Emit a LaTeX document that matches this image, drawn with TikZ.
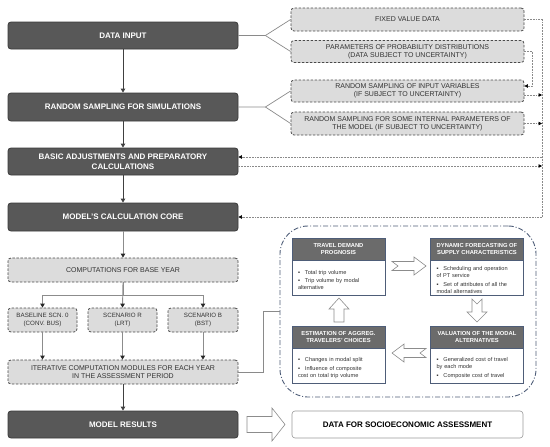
\documentclass[tikz,border=0pt]{standalone}
\usepackage{fontspec}
\setmainfont{Liberation Sans}
\usetikzlibrary{arrows.meta,calc}

\definecolor{darkbox}{HTML}{585858}
\definecolor{darkedge}{HTML}{3A3A3A}
\definecolor{lightbox}{HTML}{DCDCDC}
\definecolor{lightedge}{HTML}{4A4A4A}
\definecolor{loopcol}{HTML}{4E5D78}
\definecolor{headfill}{HTML}{6B6B6B}
\definecolor{hollowcol}{HTML}{8C8C8C}
\definecolor{busgray}{HTML}{8A8A8A}
\definecolor{txtgray}{HTML}{333333}

\newcommand{\bitem}[1]{\par\hangindent=7pt\hangafter=1\noindent\makebox[7pt][l]{▪}#1}
\newcommand{\bgap}{\par\vspace{1.2pt}}

\begin{document}
\begin{tikzpicture}[x=1pt,y=-1pt,
  darknode/.style={draw=darkedge, fill=darkbox, rounded corners=3pt, line width=0.8pt,
    minimum width=230pt, text=white, font=\fontsize{8}{9.5}\selectfont\bfseries,
    align=center, inner sep=0pt},
  lightnode/.style={draw=lightedge, fill=lightbox, rounded corners=3pt,
    dash pattern=on 2.5pt off 1.5pt, line width=0.8pt, text=txtgray,
    font=\fontsize{7}{8}\selectfont, align=center, inner sep=0pt},
  scennode/.style={lightnode, font=\fontsize{6.2}{7.8}\selectfont, minimum height=24pt},
  hdr/.style={draw=loopcol, fill=headfill, line width=0.9pt, minimum width=93pt,
    minimum height=22pt, text=white, font=\fontsize{5.8}{7.3}\selectfont\bfseries,
    align=center, inner sep=0pt},
  bodynode/.style={draw=loopcol, fill=white, line width=0.9pt, minimum width=93pt,
    minimum height=35pt, text width=81pt, inner xsep=6pt, inner ysep=0pt,
    font=\fontsize{5.6}{7.2}\selectfont, align=left, text=txtgray},
  loopbox/.style={draw=loopcol, line width=0.9pt, rounded corners=28pt,
    dash pattern=on 5pt off 2pt on 1pt off 2pt, minimum width=256pt, minimum height=171pt},
  socionode/.style={draw=black!40, fill=white, rounded corners=3pt, line width=0.6pt,
    minimum width=231pt, minimum height=27pt, font=\fontsize{8}{9.5}\selectfont\bfseries,
    inner sep=0pt},
  darkflow/.style={draw=black!75, line width=0.9pt, -{Triangle[length=4pt,width=4.5pt]}},
  grayflow/.style={draw=black!45, line width=0.9pt, -{Triangle[length=4pt,width=4.5pt,color=black!85]}},
  grayline/.style={draw=black!45, line width=0.9pt},
  bracket/.style={draw=busgray, line width=0.7pt},
  bus/.style={draw=busgray, line width=0.6pt, dash pattern=on 1.8pt off 1pt},
  busarrow/.style={bus, -{Triangle[length=3.5pt,width=3.5pt,color=black]}},
  hollow/.style={draw=hollowcol, fill=white, line width=0.6pt, line join=miter}
]
\useasboundingbox (0,0) rectangle (550,447);

% left column
\node[darknode, minimum height=27pt] (din) at (123,35.5) {DATA INPUT};
\node[darknode, minimum height=28pt] (rs) at (123,107) {RANDOM SAMPLING FOR SIMULATIONS};
\node[darknode, minimum height=27pt] (basic) at (123,161.5) {BASIC ADJUSTMENTS AND PREPARATORY\\CALCULATIONS};
\node[darknode, minimum height=28pt] (core) at (123,217) {MODEL’S CALCULATION CORE};
\node[lightnode, minimum width=230pt, minimum height=24pt] (comp) at (123,270) {COMPUTATIONS FOR BASE YEAR};
\node[scennode, minimum width=69pt] (s0) at (42.5,320) {BASELINE SCN. 0\\(CONV. BUS)};
\node[scennode, minimum width=69pt] (sR) at (122.5,320) {SCENARIO R\\(LRT)};
\node[scennode, minimum width=70pt] (sB) at (203,320) {SCENARIO B\\(BST)};
\node[lightnode, minimum width=230pt, minimum height=24pt] (iter) at (123,372) {ITERATIVE COMPUTATION MODULES FOR EACH YEAR\\IN THE ASSESSMENT PERIOD};
\node[darknode, minimum height=27pt] (res) at (123,424.5) {MODEL RESULTS};

% right column
\node[lightnode, minimum width=233pt, minimum height=23pt] (fixed) at (407.5,19.5) {FIXED VALUE DATA};
\node[lightnode, minimum width=233pt, minimum height=22pt] (params) at (407.5,51.5) {PARAMETERS OF PROBABILITY DISTRIBUTIONS\\(DATA SUBJECT TO UNCERTAINTY)};
\node[lightnode, minimum width=233pt, minimum height=22pt] (rsin) at (407.5,91) {RANDOM SAMPLING OF INPUT VARIABLES\\(IF SUBJECT TO UNCERTAINTY)};
\node[lightnode, minimum width=233pt, minimum height=23pt] (rsint) at (407.5,123.5) {RANDOM SAMPLING FOR SOME INTERNAL PARAMETERS OF\\THE MODEL (IF SUBJECT TO UNCERTAINTY)};

% vertical flow
\draw[darkflow] (din.south) -- (rs.north);
\draw[darkflow] (rs.south) -- (basic.north);
\draw[darkflow] (basic.south) -- (core.north);
\draw[grayflow] (core.south) -- (comp.north);
\draw[grayflow] (comp.south) -- (sR.north);
\draw[grayline] (comp.south) -- ++(0,13) coordinate (split);
\draw[grayflow] (split) -| (s0.north);
\draw[grayflow] (split) -| (sB.north);
\draw[grayflow] (s0.south) -- (s0.south |- iter.north);
\draw[grayflow] (sR.south) -- (sR.south |- iter.north);
\draw[grayflow] (sB.south) -- (sB.south |- iter.north);
\draw[darkflow] (iter.south) -- (res.north);

% brackets to right column
\draw[bracket] (din.east) -- ++(27,0) coordinate (f1) -- (fixed.west);
\draw[bracket] (f1) -- (params.west);
\draw[bracket] (rs.east) -- ++(27,0) coordinate (f2) -- (rsin.west);
\draw[bracket] (f2) -- (rsint.west);

% dashed bus
\coordinate (busTop) at (542,19.5);
\coordinate (busBot) at (542,217);
\draw[bus] (fixed.east) -- (busTop) -- (busBot);
\draw[busarrow] (busBot) -- (core.east);
\draw[busarrow] (params.east) -- ++(8,0) |- ([yshift=5pt]rsin.east);
\draw[busarrow] ([yshift=-4pt]rsin.east) -- ([yshift=-4pt]rsin.east -| busTop);
\draw[busarrow] (rsint.east) -- (rsint.east -| busTop);
\draw[busarrow] ([yshift=4.5pt]basic.east -| busTop) -- ([yshift=4.5pt]basic.east);
\draw[busarrow] ([yshift=-4.5pt]basic.east) -- ([yshift=-4.5pt]basic.east -| busTop);

% loop box
\node[loopbox] (loop) at (408,311.5) {};
\draw[bracket, line width=0.8pt] (iter.east) -- ++(25,0) |- (loop.west);

% inner boxes
\node[hdr] (tdpH) at (338.5,249) {TRAVEL DEMAND\\PROGNOSIS};
\node[bodynode, anchor=north] (tdpB) at (tdpH.south) {\bitem{Total trip volume}\bgap\bitem{Trip volume by modal\\alternative}};
\node[hdr] (dfH) at (477,249) {DYNAMIC FORECASTING OF\\SUPPLY CHARACTERISTICS};
\node[bodynode, anchor=north] (dfB) at (dfH.south) {\bitem{Scheduling and operation\\of PT service}\bgap\bitem{Set of attributes of all the\\modal alternatives}};
\node[hdr] (estH) at (338.5,337) {ESTIMATION OF AGGREG.\\TRAVELERS’ CHOICES};
\node[bodynode, anchor=north] (estB) at (estH.south) {\bitem{Changes in modal split}\bgap\bitem{Influence of composite\\cost on total trip volume}};
\node[hdr] (valH) at (477,337) {VALUATION OF THE MODAL\\ALTERNATIVES};
\node[bodynode, anchor=north] (valB) at (valH.south) {\bitem{Generalized cost of travel\\by each mode}\bgap\bitem{Composite cost of travel}};

% hollow arrows
\draw[hollow] (392,261.5) -- (414,261.5) -- (414,257) -- (426,266) -- (414,275) -- (414,270.5) -- (392,270.5) -- (398,266) -- cycle;
\draw[hollow] (472,299) -- (477,304) -- (482,299) -- (482,312) -- (487,312) -- (477,322) -- (467,312) -- (472,312) -- cycle;
\draw[hollow] (426,348.5) -- (404,348.5) -- (404,344) -- (392,353) -- (404,362) -- (404,357.5) -- (426,357.5) -- (420,353) -- cycle;
\draw[hollow] (334,322) -- (334,309) -- (329,309) -- (339,298) -- (349,309) -- (344,309) -- (344,322) -- cycle;

% result
\node[socionode] (socio) at (407.5,424.5) {DATA FOR SOCIOECONOMIC ASSESSMENT};
\draw[hollow] (247,416.5) -- (272,416.5) -- (272,408) -- (285,424.5) -- (272,441) -- (272,432.5) -- (247,432.5) -- cycle;
\end{tikzpicture}
\end{document}
